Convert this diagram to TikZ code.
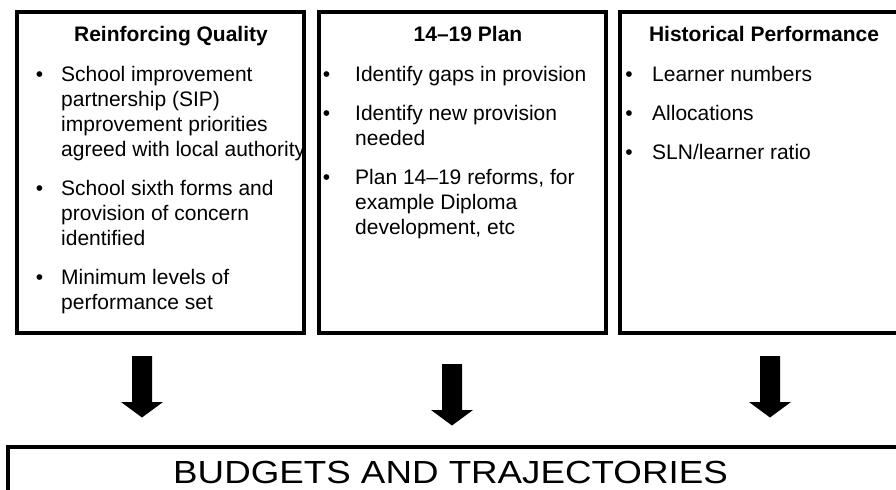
\documentclass[tikz,border=0pt]{standalone}
\usepackage{fontspec}
\setmainfont{Liberation Sans}
\begin{document}
\begin{tikzpicture}[x=1bp,y=-1bp]
\tikzset{
  panel/.style={draw=black, line width=3.5bp, inner sep=0, outer sep=0, anchor=north west, minimum width=287bp, minimum height=321bp},
  basebox/.style={draw=black, line width=4bp},
  txt/.style={anchor=base west, inner sep=0, font=\fontsize{21bp}{25bp}\selectfont},
  ttl/.style={anchor=base, inner sep=0, font=\fontsize{21bp}{25bp}\selectfont\bfseries},
  bul/.style={anchor=base, inner sep=0, font=\fontsize{21bp}{25bp}\selectfont},
  big/.style={anchor=base, inner sep=0, font=\fontsize{32bp}{36bp}\selectfont},
  blockarrow/.style={fill=black},
}
\newcommand\mydownarrow[1]{\fill[blockarrow] (#1) ++(-10,0) -- ++(20,0) -- ++(0,46) -- ++(11,0) -- ++(-21,15.5) -- ++(-21,-15.5) -- ++(11,0) -- cycle;}
\useasboundingbox (0,0) rectangle (896,490);
\clip (0,0) rectangle (896,490);
\fill[white] (0,0) rectangle (896,490);

% panels
\node[panel] (rq) at (17,12) {};
\node[panel] (plan) at (319,12) {};
\node[panel] (hp) at (620,12) {};

% panel 1
\node[ttl] (rqt) at (171,42) {Reinforcing Quality};
\node[bul] (rqb1) at (39.5,82) {•};
\node[txt] (rq11) at (61,82) {School improvement};
\node[txt] (rq12) at (61,107) {partnership (SIP)};
\node[txt] (rq13) at (61,132) {improvement priorities};
\node[txt] (rq14) at (61,157) {agreed with local authority};
\node[bul] (rqb2) at (39.5,196) {•};
\node[txt] (rq21) at (61,196) {School sixth forms and};
\node[txt] (rq22) at (61,221) {provision of concern};
\node[txt] (rq23) at (61,246) {identified};
\node[bul] (rqb3) at (39.5,285) {•};
\node[txt] (rq31) at (61,285) {Minimum levels of};
\node[txt] (rq32) at (61,310) {performance set};

% panel 2
\node[ttl] (plant) at (468,42) {14–19 Plan};
\node[bul] (planb1) at (326.5,82) {•};
\node[txt] (plan11) at (355,82) {Identify gaps in provision};
\node[bul] (planb2) at (326.5,121) {•};
\node[txt] (plan21) at (355,121) {Identify new provision};
\node[txt] (plan22) at (355,146) {needed};
\node[bul] (planb3) at (326.5,185) {•};
\node[txt] (plan31) at (355,185) {Plan 14–19 reforms, for};
\node[txt] (plan32) at (355,210) {example Diploma};
\node[txt] (plan33) at (355,235) {development, etc};

% panel 3
\node[ttl] (hpt) at (764,42) {Historical Performance};
\node[bul] (hpb1) at (629,82) {•};
\node[txt] (hp1) at (652,82) {Learner numbers};
\node[bul] (hpb2) at (629,121) {•};
\node[txt] (hp2) at (652,121) {Allocations};
\node[bul] (hpb3) at (629,160) {•};
\node[txt] (hp3) at (652,160) {SLN/learner ratio};

% arrows
\coordinate (a1) at (142,356);
\coordinate (a2) at (452,364);
\coordinate (a3) at (770,356);
\mydownarrow{a1}
\mydownarrow{a2}
\mydownarrow{a3}

% bottom box
\draw[basebox] (8,447) rectangle (1000,600);
\node[big] (bt) at (450.5,483) {\scalebox{1.148}[1]{BUDGETS AND TRAJECTORIES}};
\end{tikzpicture}
\end{document}
